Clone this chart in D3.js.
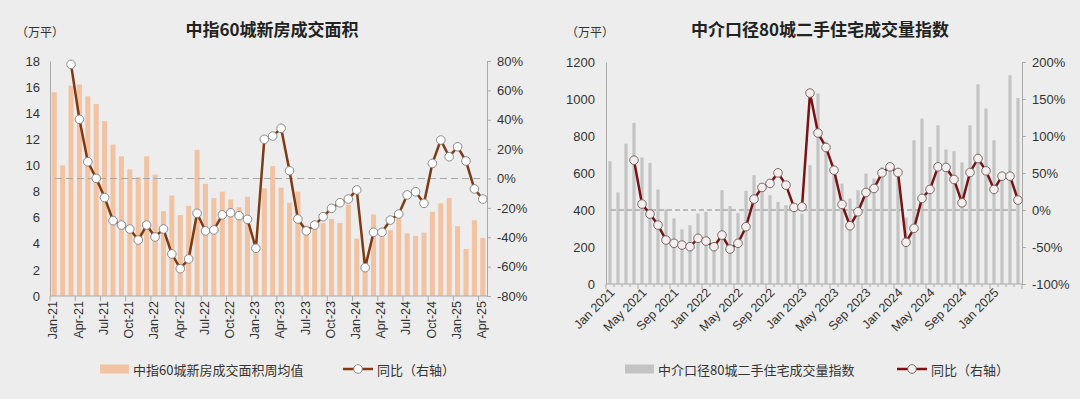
<!DOCTYPE html>
<html>
<head>
<meta charset="utf-8">
<script src="https://cdn.jsdelivr.net/npm/d3@7"></script>
<style>
  body { margin: 0; background: #ededed; }
  svg { display: block; font-family: "Liberation Sans", Arial, "Noto Sans CJK SC", sans-serif; }
  .cjk { font-family: "Noto Sans CJK SC", sans-serif; }
</style>
</head>
<body>
<svg id="chart" width="1080" height="399"></svg>
<script>
'use strict'

const months = [
  '2021-01','2021-02','2021-03','2021-04','2021-05','2021-06','2021-07','2021-08','2021-09','2021-10','2021-11','2021-12',
  '2022-01','2022-02','2022-03','2022-04','2022-05','2022-06','2022-07','2022-08','2022-09','2022-10','2022-11','2022-12',
  '2023-01','2023-02','2023-03','2023-04','2023-05','2023-06','2023-07','2023-08','2023-09','2023-10','2023-11','2023-12',
  '2024-01','2024-02','2024-03','2024-04','2024-05','2024-06','2024-07','2024-08','2024-09','2024-10','2024-11','2024-12',
  '2025-01','2025-02','2025-03','2025-04',
]

// 中指60城新房成交面积周均值 (万平)
const newHomeArea = [
  15.6, 10.0, 16.1, 16.2, 15.3, 14.7, 13.4, 11.6, 10.7, 9.7, 9.1, 10.7,
  9.3, 6.5, 7.7, 6.2, 6.9, 11.2, 8.6, 7.5, 8.0, 7.4, 6.8, 7.6,
  3.8, 8.25, 9.95, 8.3, 7.15, 8.0, 5.4, 5.2, 5.6, 5.9, 5.6, 7.0,
  4.4, 3.0, 6.25, 4.5, 5.05, 5.95, 4.8, 4.6, 4.85, 6.45, 7.1, 7.5,
  5.35, 3.6, 5.8, 4.45,
]
// 同比 (%)
const newHomeYoY = [
  null, null, 77.7, 40.3, 11.4, 0.1, -13, -28.7, -31.7, -34.4, -41.9, -31.7,
  -39.8, -34.4, -51.4, -61.4, -54.8, -23.7, -35.7, -35, -24.8, -23.3, -25.3, -27.8,
  -47.5, 26.7, 28.9, 34.2, 5.3, -27.6, -35.7, -31.7, -26, -20.3, -16.5, -14,
  -7.8, -60.7, -36.6, -36.6, -28.3, -24.2, -11.2, -9, -16.9, 10.3, 26.2, 14.8,
  21.6, 11.9, -7.1, -14,
]

// 中介口径80城二手住宅成交量指数
const resaleIndex = [
  664, 495, 759, 871, 684, 655, 511, 403, 355, 295, 318, 381,
  390, 210, 507, 421, 385, 504, 588, 530, 480, 444, 426, 415,
  380, 642, 1030, 770, 620, 543, 462, 507, 597, 570, 633, 640,
  580, 358, 777, 894, 741, 858, 727, 718, 657, 858, 1079, 948,
  777, 560, 1128, 1005,
]
const resaleYoY = [
  null, null, null, 67.3, 8, -5.5, -20.4, -40.6, -45, -47.4, -49.6, -38.3,
  -42, -49.6, -33.9, -52.8, -45, -22.6, 14.7, 30.5, 35.9, 50.2, 33.6, 3.5,
  4.3, 158, 104, 84.5, 53.8, 7.5, -21.3, -2.4, 23.7, 29.1, 50.2, 58.3,
  50.7, -43.7, -24.8, 15.7, 27.8, 58.3, 57.5, 41.3, 9.7, 50.7, 69.6, 52.9,
  27.8, 45.7, 45.7, 13.4,
]

const leftTicks = [0, 2, 4, 6, 8, 10, 12, 14, 16, 18]
const leftPctTicks = [-80, -60, -40, -20, 0, 20, 40, 60, 80]
const rightTicks = [0, 200, 400, 600, 800, 1000, 1200]
const rightPctTicks = [-100, -50, 0, 50, 100, 150, 200]

const parseMonth = d3.timeParse('%Y-%m')
const axisGrey = '#a9a9a9'
const textColor = '#333'

const svg = d3.select('#chart')
svg.append('rect').attr('width', 1080).attr('height', 399).attr('fill', '#ededed')

function drawPanel(cfg) {
  const g = svg.append('g')
  const x = d3.scaleBand()
    .domain(months)
    .range([cfg.left, cfg.right])
    .paddingInner(cfg.padIn)
    .paddingOuter(cfg.padIn / 2)
  const y = d3.scaleLinear().domain(cfg.yDomain).range([cfg.bottom, cfg.top])
  const yr = d3.scaleLinear().domain(cfg.pctDomain).range([cfg.bottom, cfg.top])
  const cx = d => x(d) + x.bandwidth() / 2

  // title and unit
  g.append('text').attr('class', 'cjk')
    .attr('x', cfg.titleX).attr('y', 36)
    .attr('text-anchor', 'middle')
    .attr('font-size', 17).attr('font-weight', 'bold').attr('fill', '#222')
    .text(cfg.title)
  g.append('text').attr('class', 'cjk')
    .attr('x', cfg.unitX).attr('y', 37)
    .attr('font-size', 12).attr('fill', textColor)
    .text('（万平）')

  // bars
  g.append('g').selectAll('rect')
    .data(cfg.bars)
    .join('rect')
    .attr('x', (d, i) => x(months[i]))
    .attr('width', x.bandwidth())
    .attr('y', d => y(d))
    .attr('height', d => cfg.bottom - y(d))
    .attr('fill', cfg.barColor)

  // zero line of the right axis
  g.append('line')
    .attr('x1', cfg.left + 5).attr('x2', cfg.right - 3)
    .attr('y1', yr(0)).attr('y2', yr(0))
    .attr('stroke', cfg.dashColor).attr('stroke-width', 1.2)
    .attr('stroke-dasharray', cfg.dash)

  // left axis
  const yAxis = g.append('g')
    .attr('transform', 'translate(' + cfg.left + ',0)')
    .call(d3.axisLeft(y).tickValues(cfg.yTicks).tickSize(0).tickPadding(cfg.yPad)
      .tickFormat(d3.format('d')))
  // right axis
  const yrAxis = g.append('g')
    .attr('transform', 'translate(' + cfg.right + ',0)')
    .call(d3.axisRight(yr).tickValues(cfg.pctTicks).tickSize(4).tickPadding(6)
      .tickFormat(d => d + '%'))
  ;[yAxis, yrAxis].forEach(a => {
    a.select('.domain').attr('stroke', axisGrey)
    a.selectAll('.tick line').attr('stroke', axisGrey)
    a.selectAll('text').attr('font-size', 13).attr('fill', textColor)
      .attr('font-family', '"Liberation Sans", Arial, sans-serif')
  })

  // bottom axis line and ticks at category edges
  const bx = g.append('g')
  bx.append('line')
    .attr('x1', cfg.left).attr('x2', cfg.right)
    .attr('y1', cfg.bottom).attr('y2', cfg.bottom)
    .attr('stroke', axisGrey)
  const edges = d3.range(0, months.length + 1)
  bx.selectAll('.edge')
    .data(edges.filter(i => cfg.minorTicks || i % cfg.every === 0))
    .join('line')
    .attr('x1', i => x.range()[0] + i * x.step())
    .attr('x2', i => x.range()[0] + i * x.step())
    .attr('y1', cfg.bottom)
    .attr('y2', i => cfg.bottom + (i % cfg.every === 0 ? 5 : 3))
    .attr('stroke', axisGrey)

  // month labels
  const fmt = d3.timeFormat(cfg.labelFormat)
  bx.selectAll('.lbl')
    .data(months.filter((m, i) => i % cfg.every === 0 && i < cfg.labelCount * cfg.every))
    .join('text')
    .attr('transform', d => 'translate(' + (cx(d) + cfg.labelDx) + ',' + (cfg.bottom + cfg.labelDy) + ') rotate(' + cfg.labelRotate + ')')
    .attr('text-anchor', 'end')
    .attr('dominant-baseline', 'middle')
    .attr('font-size', 12.5).attr('fill', textColor)
    .text(d => fmt(parseMonth(d)))

  // yoy line
  const pts = cfg.pct.map((v, i) => ({m: months[i], v: v})).filter(p => p.v != null)
  g.append('path')
    .datum(pts)
    .attr('fill', 'none')
    .attr('stroke', cfg.lineColor)
    .attr('stroke-width', 2.5)
    .attr('stroke-linejoin', 'round')
    .attr('d', d3.line().x(p => cx(p.m)).y(p => yr(p.v)))
  g.append('g').selectAll('circle')
    .data(pts)
    .join('circle')
    .attr('cx', p => cx(p.m))
    .attr('cy', p => yr(p.v))
    .attr('r', 4.3)
    .attr('fill', cfg.dotFill)
    .attr('stroke', cfg.dotStroke)
    .attr('stroke-width', 1)

  // legend
  const lg = g.append('g').attr('transform', 'translate(0,369)')
  lg.append('rect')
    .attr('x', cfg.legendX).attr('y', -4.5).attr('width', 29).attr('height', 9)
    .attr('fill', cfg.barColor)
  lg.append('text').attr('class', 'cjk')
    .attr('x', cfg.legendX + 33).attr('y', 0).attr('dominant-baseline', 'central')
    .attr('font-size', 13).attr('fill', textColor)
    .text(cfg.barLabel)
  lg.append('line')
    .attr('x1', cfg.legend2X).attr('x2', cfg.legend2X + 30)
    .attr('stroke', cfg.lineColor).attr('stroke-width', 2.5)
  lg.append('circle')
    .attr('cx', cfg.legend2X + 15).attr('r', 4.3)
    .attr('fill', cfg.dotFill).attr('stroke', cfg.dotStroke)
  lg.append('text').attr('class', 'cjk')
    .attr('x', cfg.legend2X + 34).attr('y', 0).attr('dominant-baseline', 'central')
    .attr('font-size', 13).attr('fill', textColor)
    .text('同比（右轴）')
}

drawPanel({
  title: '中指60城新房成交面积', titleX: 272, unitX: 16,
  left: 50, right: 487, top: 61, bottom: 296,
  padIn: 0.4,
  yDomain: [0, 18], yTicks: leftTicks, yPad: 10,
  pctDomain: [-80, 80], pctTicks: leftPctTicks,
  bars: newHomeArea, pct: newHomeYoY,
  barColor: '#f2c3a2', lineColor: '#7e3a12',
  dotFill: '#ffffff', dotStroke: '#8a8a8a',
  dashColor: '#a8a8a8', dash: '7,4',
  every: 3, minorTicks: false, labelCount: 18,
  labelFormat: '%b-%y', labelRotate: -90, labelDx: 0, labelDy: 5,
  barLabel: '中指60城新房成交面积周均值', legendX: 100, legend2X: 343,
})

drawPanel({
  title: '中介口径80城二手住宅成交量指数', titleX: 820, unitX: 566,
  left: 606, right: 1022, top: 62, bottom: 284,
  padIn: 0.6,
  yDomain: [0, 1200], yTicks: rightTicks, yPad: 11,
  pctDomain: [-100, 200], pctTicks: rightPctTicks,
  bars: resaleIndex, pct: resaleYoY,
  barColor: '#c3c3c3', lineColor: '#7a1212',
  dotFill: '#f4eeee', dotStroke: '#7a6a6a',
  dashColor: '#8a8a8a', dash: '5,3',
  every: 4, minorTicks: true, labelCount: 13,
  labelFormat: '%b %Y', labelRotate: -45, labelDx: 3, labelDy: 7,
  barLabel: '中介口径80城二手住宅成交量指数', legendX: 625, legend2X: 897,
})
</script>
</body>
</html>
